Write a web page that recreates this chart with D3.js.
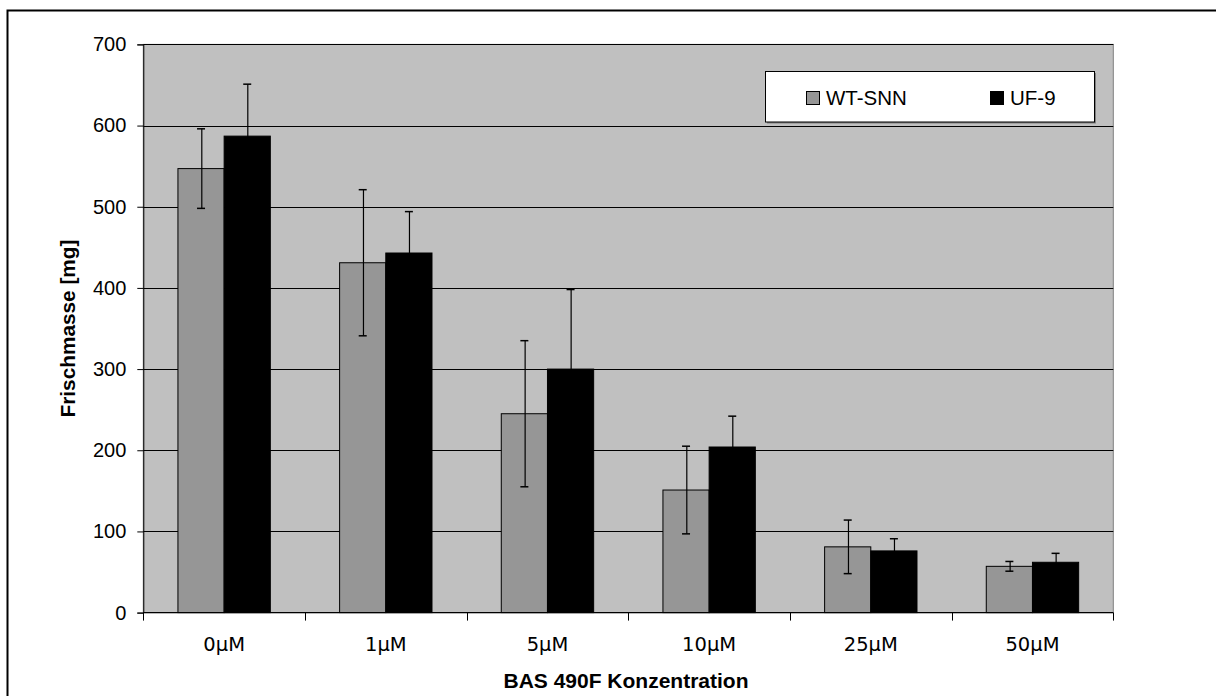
<!DOCTYPE html>
<html><head><meta charset="utf-8">
<script src="https://cdn.jsdelivr.net/npm/d3@7"></script>
<style>
html,body{margin:0;padding:0;background:#fff;}
svg{display:block;}
</style></head>
<body>
<svg id="chart" width="1216" height="696"></svg>
<script>
const categories = ["0µM", "1µM", "5µM", "10µM", "25µM", "50µM"];
const seriesNames = ["WT-SNN", "UF-9"];
const wtValues = [547, 431, 245, 151, 81, 57];
const wtErrors = [49, 90, 90, 54, 33, 6];
const ufValues = [587, 443, 300, 204, 76, 62];
const ufErrors = [64, 51, 98, 38, 15, 11];
const yTicks = [0, 100, 200, 300, 400, 500, 600, 700];
const yTitle = "Frischmasse [mg]";
const xTitle = "BAS 490F Konzentration";

const colors = {"WT-SNN": "#969696", "UF-9": "#000000"};
const rows = categories.map((c, i) => ({
  cat: c,
  vals: [
    {s: "WT-SNN", v: wtValues[i], e: wtErrors[i]},
    {s: "UF-9", v: ufValues[i], e: ufErrors[i]}
  ]
}));

const svg = d3.select("#chart");
const L = 143.3, R = 1113.3, T = 44.4, B = 612.6;

// outer frame
svg.append("rect").attr("x", 7.5).attr("y", 10.5).attr("width", 1400).attr("height", 900)
  .attr("fill", "none").attr("stroke", "#000").attr("stroke-width", 2);

const x = d3.scaleBand().domain(categories).range([L, R]).paddingInner(0).paddingOuter(0);
const xs = d3.scaleBand().domain(seriesNames).range([0, x.bandwidth()]).paddingInner(0).paddingOuter(0.75);
const y = d3.scaleLinear().domain([0, 700]).range([B, T]);

// plot area
svg.append("rect").attr("x", L).attr("y", T).attr("width", R - L).attr("height", B - T)
  .attr("fill", "#C0C0C0").attr("stroke", "#808080").attr("stroke-width", 1);

// gridlines
svg.append("g").selectAll("line").data(yTicks.filter(t => t > 0)).join("line")
  .attr("x1", L).attr("x2", R)
  .attr("y1", d => Math.round(y(d)) + 0.5).attr("y2", d => Math.round(y(d)) + 0.5)
  .attr("stroke", "#000").attr("stroke-width", 1);

// bars
const g = svg.append("g").selectAll("g").data(rows).join("g")
  .attr("transform", d => `translate(${x(d.cat)},0)`);
g.selectAll("rect").data(d => d.vals).join("rect")
  .attr("x", d => xs(d.s)).attr("width", xs.bandwidth())
  .attr("y", d => y(d.v)).attr("height", d => y(0) - y(d.v))
  .attr("fill", d => colors[d.s]).attr("stroke", "#000").attr("stroke-width", 1);

// error bars
const eb = g.selectAll("g.err").data(d => d.vals).join("g").attr("class", "err");
eb.append("line")
  .attr("x1", d => Math.round(xs(d.s) + xs.bandwidth() / 2) + 0.5)
  .attr("x2", d => Math.round(xs(d.s) + xs.bandwidth() / 2) + 0.5)
  .attr("y1", d => y(d.v + d.e)).attr("y2", d => y(d.v - d.e))
  .attr("stroke", "#000").attr("stroke-width", 1.2);
[1, -1].forEach(sgn => {
  eb.append("line")
    .attr("x1", d => xs(d.s) + xs.bandwidth() / 2 - 4)
    .attr("x2", d => xs(d.s) + xs.bandwidth() / 2 + 4)
    .attr("y1", d => y(d.v + sgn * d.e)).attr("y2", d => y(d.v + sgn * d.e))
    .attr("stroke", "#000").attr("stroke-width", 1.5);
});

// y axis
const yAxis = d3.axisLeft(y).tickValues(yTicks).tickSize(6).tickPadding(11).tickFormat(d3.format("d"));
const ya = svg.append("g").attr("transform", `translate(${L},0)`).call(yAxis);
ya.select(".domain").attr("stroke", "#000").attr("stroke-width", 1);
ya.selectAll(".tick line").attr("stroke", "#000");
ya.selectAll(".tick text").attr("font-family", "'Liberation Sans', Arial, sans-serif")
  .attr("font-size", "20px").attr("fill", "#000");

// x axis
const xa = svg.append("g").attr("transform", `translate(0,${B})`);
xa.append("line").attr("x1", L).attr("x2", R).attr("y1", 0).attr("y2", 0)
  .attr("stroke", "#000").attr("stroke-width", 1.2);
const bounds = categories.map(c => x(c)).concat([R]);
xa.selectAll("line.tk").data(bounds).join("line").attr("class", "tk")
  .attr("x1", d => Math.round(d) + 0.5).attr("x2", d => Math.round(d) + 0.5)
  .attr("y1", 0).attr("y2", 8).attr("stroke", "#000");
xa.selectAll("text").data(categories).join("text")
  .attr("x", d => x(d) + x.bandwidth() / 2).attr("y", 38.5)
  .attr("text-anchor", "middle")
  .attr("font-family", "'DejaVu Sans', Verdana, sans-serif").attr("font-size", "19.5px")
  .attr("fill", "#000").text(d => d);

// axis titles
svg.append("text").attr("x", 626).attr("y", 688)
  .attr("text-anchor", "middle").attr("font-family", "'Liberation Sans', Arial, sans-serif")
  .attr("font-weight", "bold").attr("font-size", "21px").text(xTitle);
svg.append("text").attr("transform", `translate(74.5,${(T + B) / 2}) rotate(-90)`)
  .attr("text-anchor", "middle").attr("font-family", "'Liberation Sans', Arial, sans-serif")
  .attr("font-weight", "bold").attr("font-size", "20.8px").text(yTitle);

// legend
const lg = svg.append("g");
lg.append("rect").attr("x", 767).attr("y", 73).attr("width", 329).attr("height", 50.5)
  .attr("fill", "#808080");
lg.append("rect").attr("x", 765.5).attr("y", 71.5).attr("width", 329).attr("height", 50.5)
  .attr("fill", "#fff").attr("stroke", "#000").attr("stroke-width", 1);
const legX = [806, 990];
const li = lg.selectAll("g").data(seriesNames).join("g")
  .attr("transform", (d, i) => `translate(${legX[i]},0)`);
li.append("rect").attr("x", 0.5).attr("y", 91.5).attr("width", 13).attr("height", 13)
  .attr("fill", d => colors[d]).attr("stroke", "#000").attr("stroke-width", 1);
li.append("text").attr("x", 20).attr("y", 104.5)
  .attr("font-family", "'Liberation Sans', Arial, sans-serif").attr("font-size", "20.5px")
  .attr("fill", "#000").text(d => d);
</script>
</body></html>
